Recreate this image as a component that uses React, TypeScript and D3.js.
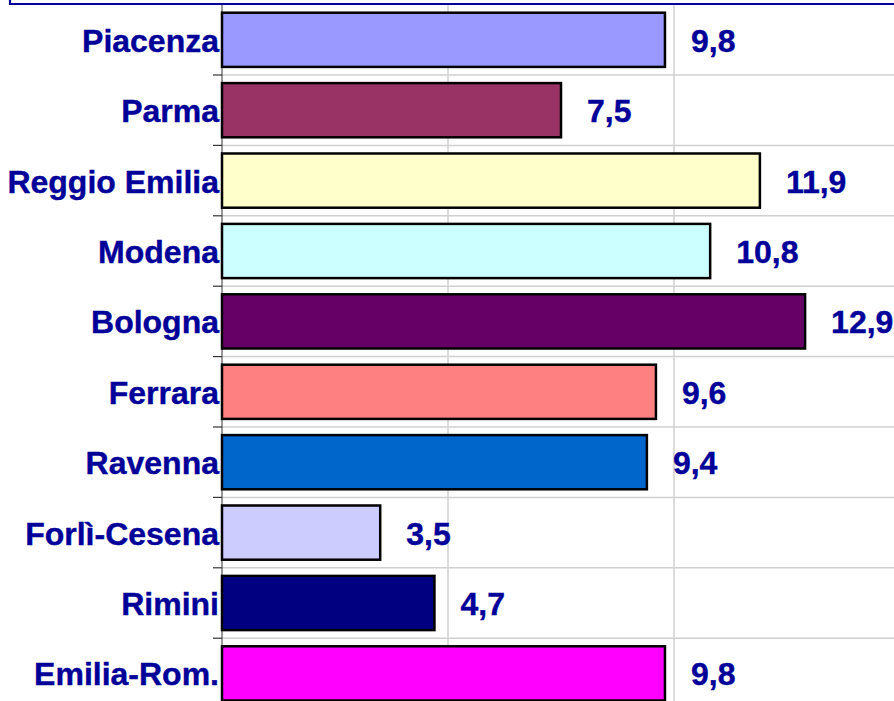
import { useRef, useEffect } from 'react'
import * as d3 from 'd3';

const provinces = ['Piacenza', 'Parma', 'Reggio Emilia', 'Modena', 'Bologna', 'Ferrara', 'Ravenna', 'Forlì-Cesena', 'Rimini', 'Emilia-Rom.'];
const values = [9.8, 7.5, 11.9, 10.8, 12.9, 9.6, 9.4, 3.5, 4.7, 9.8];
const barColors = ['#9999FF', '#993366', '#FFFFCC', '#CCFFFF', '#660066', '#FF8080', '#0066CC', '#CCCCFF', '#000080', '#FF00FF'];
const gridTicks = [0, 5, 10, 15];

function App() {
    const d3Container = useRef(null);

    const width = 894;
    const height = 701;

    useEffect(() => {
        const svg = d3.select(d3Container.current);
        svg.selectAll('*').remove();

        const textColor = '#000099';

        const x = d3.scaleLinear()
                    .domain([0, 15])
                    .range([222, 900]);

        const y = d3.scaleBand()
                    .domain(provinces)
                    .range([4.6, 708.6])
                    .paddingInner(0.23)
                    .paddingOuter(0.115);

        const step = y.step();

        // vertical gridlines
        svg.append('g')
           .selectAll('line')
           .data(gridTicks.slice(1))
           .join('line')
           .attr('x1', d => x(d))
           .attr('x2', d => x(d))
           .attr('y1', 4)
           .attr('y2', height)
           .attr('stroke', '#d0d0d0')
           .attr('stroke-width', 1.5);

        // horizontal gridlines at category boundaries
        svg.append('g')
           .selectAll('line')
           .data(provinces.slice(1))
           .join('line')
           .attr('x1', x(0))
           .attr('x2', width)
           .attr('y1', d => y(d) - step * 0.115)
           .attr('y2', d => y(d) - step * 0.115)
           .attr('stroke', '#d0d0d0')
           .attr('stroke-width', 1.5);

        // axis line + ticks
        svg.append('line')
           .attr('x1', x(0))
           .attr('x2', x(0))
           .attr('y1', 4)
           .attr('y2', height)
           .attr('stroke', '#333')
           .attr('stroke-width', 1);

        svg.append('g')
           .selectAll('line')
           .data(provinces.slice(1))
           .join('line')
           .attr('x1', x(0) - 9)
           .attr('x2', x(0))
           .attr('y1', d => y(d) - step * 0.115)
           .attr('y2', d => y(d) - step * 0.115)
           .attr('stroke', '#333')
           .attr('stroke-width', 1.2);

        // bars
        svg.append('g')
           .selectAll('rect')
           .data(provinces)
           .join('rect')
           .attr('x', x(0))
           .attr('y', d => y(d))
           .attr('width', (d, i) => x(values[i]) - x(0))
           .attr('height', y.bandwidth())
           .attr('fill', (d, i) => barColors[i])
           .attr('stroke', '#000')
           .attr('stroke-width', 2.5);

        // category labels
        svg.append('g')
           .selectAll('text')
           .data(provinces)
           .join('text')
           .attr('x', 219)
           .attr('y', d => y(d) + y.bandwidth() / 2 + 12)
           .attr('text-anchor', 'end')
           .attr('font-family', '"Liberation Sans", Arial, sans-serif')
           .attr('font-weight', 'bold')
           .attr('font-size', 32)
           .attr('fill', textColor)
           .attr('stroke', textColor)
           .attr('stroke-width', 0.4)
           .text(d => d);

        // value labels
        svg.append('g')
           .selectAll('text')
           .data(provinces)
           .join('text')
           .attr('x', (d, i) => x(values[i]) + 26)
           .attr('y', d => y(d) + y.bandwidth() / 2 + 12)
           .attr('font-family', '"Liberation Sans", Arial, sans-serif')
           .attr('font-weight', 'bold')
           .attr('font-size', 32)
           .attr('fill', textColor)
           .attr('stroke', textColor)
           .attr('stroke-width', 0.4)
           .text((d, i) => String(values[i]).replace('.', ','));

        // frame of the title box above
        svg.append('path')
           .attr('d', `M10,-2 L10,4 L${width + 2},4`)
           .attr('fill', 'none')
           .attr('stroke', '#000099')
           .attr('stroke-width', 2.2);
    });

    return (
        <svg ref={d3Container}
             width={width}
             height={height}
             style={{ position: 'absolute', left: 0, top: 0, background: '#fff' }} />
    )
}

export default App;
